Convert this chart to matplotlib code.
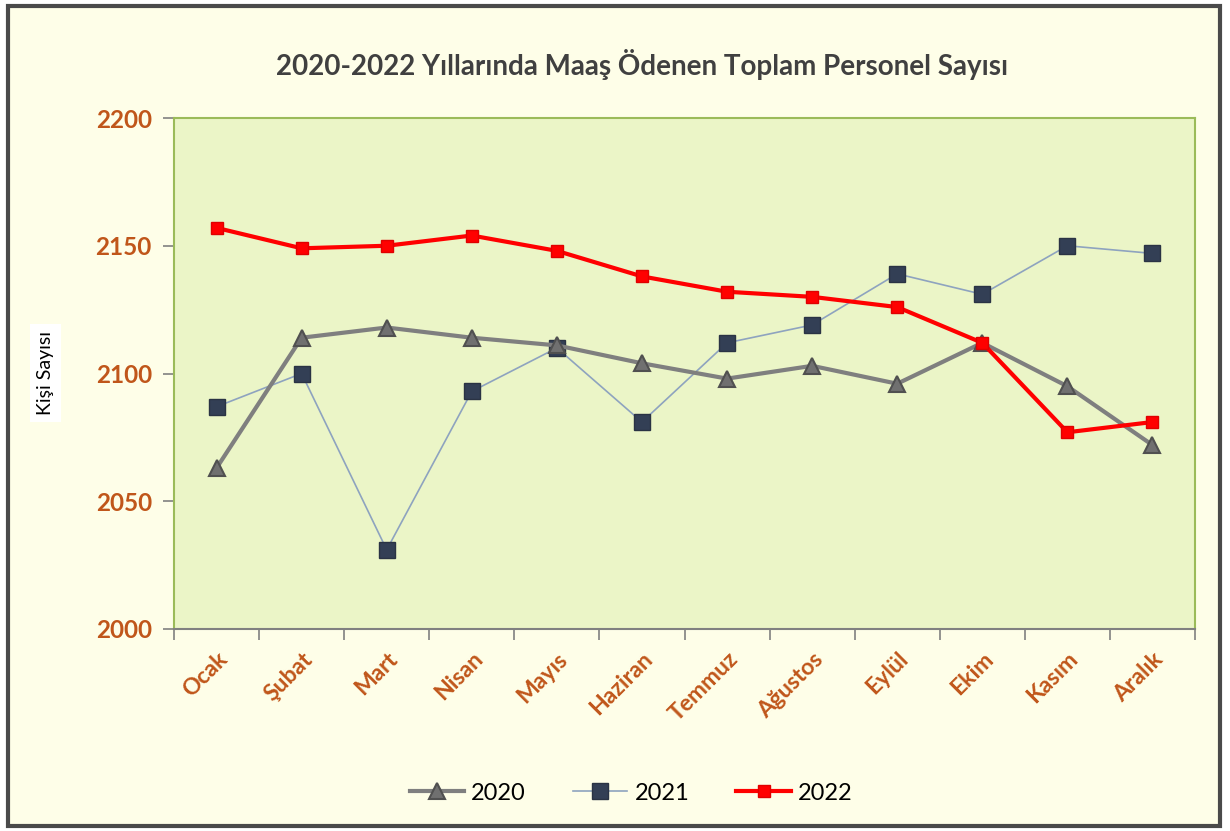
import matplotlib
matplotlib.use("Agg")
import matplotlib.pyplot as plt
from matplotlib.patches import Rectangle

months = ["Ocak", "Şubat", "Mart", "Nisan", "Mayıs", "Haziran", "Temmuz",
          "Ağustos", "Eylül", "Ekim", "Kasım", "Aralık"]
y2020 = [2063, 2114, 2118, 2114, 2111, 2104, 2098, 2103, 2096, 2112, 2095, 2072]
y2021 = [2087, 2100, 2031, 2093, 2110, 2081, 2112, 2119, 2139, 2131, 2150, 2147]
y2022 = [2157, 2149, 2150, 2154, 2148, 2138, 2132, 2130, 2126, 2112, 2077, 2081]
yticks = [2000, 2050, 2100, 2150, 2200]

plt.rcParams['font.family'] = ['Lato', 'DejaVu Sans']

fig = plt.figure(figsize=(12.3, 8.31), dpi=100)
fig.patch.set_facecolor("white")
# chart area background with border
fig.add_artist(Rectangle((8/1230, 5/831), 1212/1230, 820/831, transform=fig.transFigure,
                         facecolor="#FEFEE8", edgecolor="#4A4A4A", linewidth=3, zorder=-10))

ax = fig.add_axes([174/1230, 1-629/831, (1195-174)/1230, (629-118)/831])
ax.set_facecolor("#EBF5C7")
x = list(range(len(months)))

ax.plot(x, y2021, color="#8EA3BF", linewidth=1.2, marker="s", markersize=11,
        markerfacecolor="#333F55", markeredgecolor="#2A3344", label="2021", zorder=3)
ax.plot(x, y2020, color="#7F7F7F", linewidth=3, marker="^", markersize=12,
        markerfacecolor="#707070", markeredgecolor="#505050", markeredgewidth=1.5,
        label="2020", zorder=4)
ax.plot(x, y2022, color="#FF0000", linewidth=3, marker="s", markersize=8.5,
        markerfacecolor="#FF0000", markeredgecolor="#E00000", label="2022", zorder=5)

ax.set_xlim(-0.5, len(months) - 0.5)
ax.set_ylim(2000, 2200)
ax.set_yticks(yticks)
ax.set_yticklabels([str(v) for v in yticks], fontsize=17.5, fontweight="bold", color="#C0561A")
ax.set_xticks([i - 0.5 for i in range(len(months) + 1)])
ax.set_xticklabels([])
ax.set_xticks(x, minor=True)
ax.set_xticklabels(months, minor=True, rotation=45, ha="right", va="top",
                   rotation_mode="anchor", fontsize=16.5, fontweight="bold", color="#C0561A")
ax.tick_params(axis="x", which="minor", length=0, pad=14)
ax.tick_params(axis="x", which="major", direction="out", length=8, color="#808080", width=1.2)
ax.tick_params(axis="y", direction="out", length=8, color="#808080", width=1.2, pad=8)

for s in ["top", "right", "left"]:
    ax.spines[s].set_color("#9BBB59")
    ax.spines[s].set_linewidth(1.5)
ax.spines["bottom"].set_color("#808080")
ax.spines["bottom"].set_linewidth(1.5)

fig.text(0.522, 1-65/831, "2020-2022 Yıllarında Maaş Ödenen Toplam Personel Sayısı",
         ha="center", va="center", fontsize=20, fontweight="bold", color="#404040")

fig.text(45/1230, 1-373/831, "Kişi Sayısı", rotation=90, ha="center", va="center",
         fontsize=14, color="black",
         bbox=dict(facecolor="white", edgecolor="none", pad=5))

handles, labels = ax.get_legend_handles_labels()
order = [1, 0, 2]
leg = fig.legend([handles[i] for i in order], [labels[i] for i in order],
                 loc="center", bbox_to_anchor=(631/1230, 1-793/831), ncol=3, frameon=False,
                 fontsize=17, handlelength=2.3, columnspacing=2.0, handletextpad=0.3)

fig.savefig("out.png", dpi=100, facecolor=fig.get_facecolor())
